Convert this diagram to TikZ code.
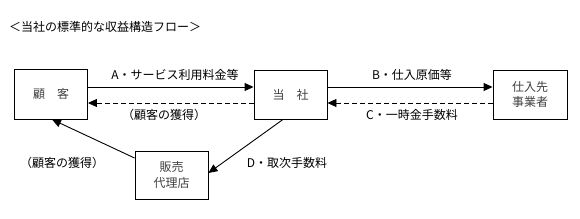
\documentclass[tikz,border=0pt]{standalone}
\usepackage{fontspec}
\newfontfamily\jp{Noto Sans CJK JP}
\usetikzlibrary{arrows.meta}
\tikzset{
  box/.style={draw, line width=0.9pt, minimum width=#1, align=center, inner sep=0pt, text=black!75, font=\jp\fontsize{12}{15.5}\selectfont},
  lbl/.style={inner sep=0pt, font=\jp\fontsize{12}{14}\selectfont},
  arr/.style={line width=0.9pt, -{Triangle[length=9pt,width=8pt]}},
  darr/.style={arr, dash pattern=on 5pt off 3pt}
}
\begin{document}
\begin{tikzpicture}[x=1pt,y=-1pt]
\useasboundingbox (0,0) rectangle (580,219);
\node[lbl, anchor=west] (title) at (9,27) {＜当社の標準的な収益構造フロー＞};
\node[box=73pt, minimum height=50pt] (cust) at (51,94) {顧　客};
\node[box=73pt, minimum height=49pt] (us) at (290.5,94.5) {当　社};
\node[box=74pt, minimum height=49pt] (sup) at (530,94.5) {仕入先\\事業者};
\node[box=73pt, minimum height=48pt] (agent) at (171.5,175) {販売\\代理店};
\coordinate (a1) at (88,87);
\coordinate (a2) at (254,87);
\draw[arr] (cust.east |- a1) -- (us.west |- a1);
\draw[darr] (us.west |- 0,103) -- (cust.east |- 0,103);
\draw[arr] (us.east |- a1) -- (sup.west |- a1);
\draw[darr] (sup.west |- 0,103) -- (us.east |- 0,103);
\draw[arr] (agent.west |- 0,158) -- (cust.south -| 52,0);
\draw[arr] (us.south -| 283,0) -- (agent.east |- 0,173);
\node[lbl] (la) at (175,75) {A・サービス利用料金等};
\node[lbl] (lg1) at (164,115) {（顧客の獲得）};
\node[lbl] (lb) at (412,75) {B・仕入原価等};
\node[lbl] (lc) at (412,115) {C・一時金手数料};
\node[lbl] (lg2) at (62,163) {（顧客の獲得）};
\node[lbl] (ld) at (287,163) {D・取次手数料};
\end{tikzpicture}
\end{document}
